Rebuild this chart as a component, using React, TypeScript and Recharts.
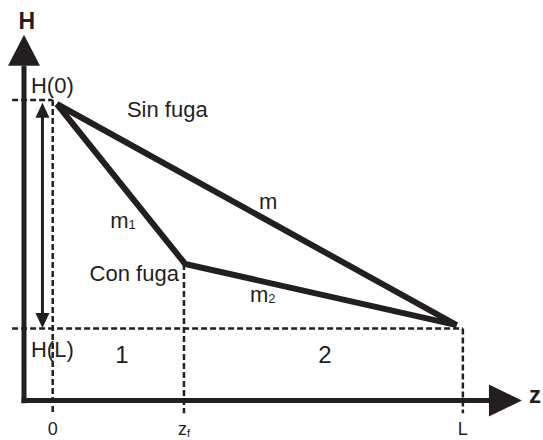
import { Line, LineChart, ReferenceDot, ReferenceLine, XAxis, YAxis } from 'recharts';

// z positions of the marked points (L = 10) and heads H (H(0) = 10, H(L) = 2)
const sinFugaZ = [0.1, 9.85];
const sinFugaH = [9.86, 2.12];
const conFugaZ = [0.1, 3.23, 9.85];
const conFugaH = [9.86, 4.26, 2.12];

const tickValues = [0, 3.2, 10];
const tickLabels = ['0', 'zf', 'L'];

const H0 = 10;
const HL = 2;
const Z0 = 0;
const ZF = 3.2;
const ZL = 10;

const sinFuga = sinFugaZ.map((z, i) => ({ z, h: sinFugaH[i] }));
const conFuga = conFugaZ.map((z, i) => ({ z, h: conFugaH[i] }));

const INK = '#231f20';
const FONT = '"Liberation Sans", Arial, sans-serif';

const dash = { stroke: INK, strokeWidth: 2.5, strokeDasharray: '6 3', ifOverflow: 'visible' as const };

function Tick({ x, y, payload, index }: any) {
  const label = tickLabels[index] ?? String(payload.value);
  if (label === 'zf') {
    return (
      <text x={x} y={y + 17} textAnchor="middle" fontSize={18} fontFamily={FONT} fill={INK}>
        z<tspan fontSize={11} dy={2}>f</tspan>
      </text>
    );
  }
  return (
    <text x={x} y={y + 17} textAnchor="middle" fontSize={18} fontFamily={FONT} fill={INK}>
      {label}
    </text>
  );
}

function note(x: number, y: number, text: string, opts: { size?: number; bold?: boolean; anchor?: string; sub?: string } = {}) {
  return (
    <ReferenceDot
      key={text + x}
      x={x}
      y={y}
      r={0}
      ifOverflow="visible"
      shape={(p: any) => (
        <text
          x={p.cx}
          y={p.cy}
          fontSize={opts.size ?? 22}
          fontWeight={opts.bold ? 'bold' : 'normal'}
          textAnchor={(opts.anchor as any) ?? 'start'}
          fontFamily={FONT}
          fill={INK}
        >
          {text}
          {opts.sub && (
            <tspan fontSize={13} dy={1}>
              {opts.sub}
            </tspan>
          )}
        </text>
      )}
    />
  );
}

function arrowHead(x: number, y: number, dir: 'up' | 'down' | 'right', w: number, len: number) {
  return (
    <ReferenceDot
      x={x}
      y={y}
      r={0}
      ifOverflow="visible"
      shape={(p: any) => {
        const { cx, cy } = p;
        let pts = '';
        if (dir === 'up') pts = `${cx},${cy} ${cx - w / 2},${cy + len} ${cx + w / 2},${cy + len}`;
        if (dir === 'down') pts = `${cx},${cy} ${cx - w / 2},${cy - len} ${cx + w / 2},${cy - len}`;
        if (dir === 'right') pts = `${cx},${cy} ${cx - len},${cy - w / 2} ${cx - len},${cy + w / 2}`;
        return <polygon points={pts} fill={INK} />;
      }}
    />
  );
}

export default function App() {
  return (
    <div style={{ position: 'absolute', left: 0, top: 0, background: '#fff' }}>
      <LineChart width={543} height={440} margin={{ top: 30, right: 10, bottom: 0, left: 8 }}>
        <XAxis
          type="number"
          dataKey="z"
          domain={[-1.09, 11.71]}
          allowDataOverflow
          ticks={tickValues}
          tick={<Tick />}
          axisLine={false}
          tickLine={false}
          tickSize={0}
          tickMargin={0}
          height={22}
        />
        <YAxis type="number" dataKey="h" domain={[-1.13, 12.45]} allowDataOverflow hide />

        {/* axes */}
        <ReferenceLine segment={[{ x: -0.7, y: -0.61 }, { x: -0.7, y: 11.2 }]} stroke={INK} strokeWidth={5} ifOverflow="visible" />
        <ReferenceLine segment={[{ x: -0.76, y: -0.52 }, { x: 10.7, y: -0.52 }]} stroke={INK} strokeWidth={5} ifOverflow="visible" />
        {arrowHead(-0.7, 12.28, 'up', 32, 31)}
        {arrowHead(11.44, -0.52, 'right', 32, 33)}

        {/* dashed guides */}
        <ReferenceLine segment={[{ x: -0.99, y: H0 }, { x: Z0, y: H0 }]} {...dash} />
        <ReferenceLine segment={[{ x: -0.99, y: HL }, { x: ZL, y: HL }]} {...dash} />
        <ReferenceLine segment={[{ x: Z0, y: H0 }, { x: Z0, y: -0.96 }]} {...dash} />
        <ReferenceLine segment={[{ x: ZF, y: conFugaH[1] }, { x: ZF, y: -0.96 }]} {...dash} />
        <ReferenceLine segment={[{ x: ZL, y: HL }, { x: ZL, y: -0.96 }]} {...dash} />

        {/* head difference arrow */}
        <ReferenceLine segment={[{ x: -0.25, y: 9.45 }, { x: -0.25, y: 2.5 }]} stroke={INK} strokeWidth={3} ifOverflow="visible" />
        {arrowHead(-0.25, 9.9, 'up', 14, 15)}
        {arrowHead(-0.25, 2.02, 'down', 14, 15)}

        <Line data={sinFuga} dataKey="h" type="linear" stroke={INK} strokeWidth={6} strokeLinejoin="miter" dot={false} isAnimationActive={false} />
        <Line data={conFuga} dataKey="h" type="linear" stroke={INK} strokeWidth={6} strokeLinejoin="miter" dot={false} isAnimationActive={false} />

        {note(-0.63, 12.49, 'H', { size: 23, bold: true, anchor: 'middle' })}
        {note(11.76, -0.61, 'z', { size: 24, bold: true, anchor: 'middle' })}
        {note(-0.53, 10.25, 'H(0)')}
        {note(1.81, 9.4, 'Sin fuga')}
        {note(5.25, 6.18, 'm', { anchor: 'middle' })}
        {note(1.4, 5.52, 'm', { sub: '1' })}
        {note(0.9, 3.66, 'Con fuga')}
        {note(4.81, 2.93, 'm', { sub: '2' })}
        {note(-0.53, 1.0, 'H(L)')}
        {note(1.69, 0.8, '1', { size: 24, anchor: 'middle' })}
        {note(6.64, 0.8, '2', { size: 24, anchor: 'middle' })}
      </LineChart>
    </div>
  );
}
